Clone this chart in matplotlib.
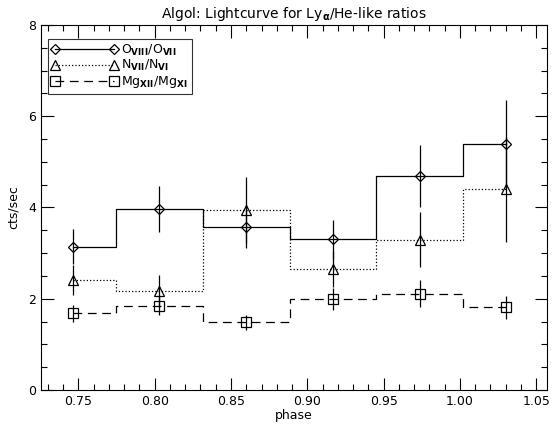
import matplotlib
matplotlib.use('Agg')
import matplotlib.pyplot as plt
from matplotlib.ticker import MultipleLocator

# phase bin centres
phase = [0.7463, 0.8031, 0.8600, 0.9168, 0.9736, 1.0305]

# O VIII / O VII
o_ratio = [3.14, 3.97, 3.58, 3.30, 4.68, 5.39]
o_err = [0.38, 0.50, 0.47, 0.43, 0.68, 0.97]

# N VII / N VI
n_ratio = [2.41, 2.17, 3.95, 2.65, 3.29, 4.40]
n_err = [0.33, 0.35, 0.72, 0.40, 0.60, 1.15]

# Mg XII / Mg XI
mg_ratio = [1.68, 1.85, 1.48, 1.99, 2.11, 1.81]
mg_err = [0.18, 0.20, 0.17, 0.24, 0.29, 0.26]

plt.rcParams['font.family'] = 'DejaVu Sans'
plt.rcParams['font.size'] = 9

fig = plt.figure(figsize=(5.52, 4.30), dpi=100)
ax = fig.add_axes([0.0743, 0.093, 0.917, 0.849])

series = [
    (o_ratio, o_err, 'D', 5.5, '-', r'O$_{\mathbf{VIII}}$/O$_{\mathbf{VII}}$'),
    (n_ratio, n_err, '^', 6.5, ':', r'N$_{\mathbf{VII}}$/N$_{\mathbf{VI}}$'),
    (mg_ratio, mg_err, 's', 6.5, (0, (7, 4.5)), r'Mg$_{\mathbf{XII}}$/Mg$_{\mathbf{XI}}$'),
]

for vals, err, mk, size, ls, lab in series:
    ax.plot(phase, vals, drawstyle='steps-mid', color='black', lw=0.9, ls=ls)
    ax.errorbar(phase, vals, yerr=err, fmt='none', ecolor='black', elinewidth=0.9, capsize=0)
    ax.plot(phase, vals, ls='none', marker=mk, ms=size, mfc='none', mec='black', mew=0.9)
    # legend proxy
    ax.plot([], [], color='black', lw=0.9, ls=ls, marker=mk, ms=size,
            mfc='none', mec='black', mew=0.9, label=lab)

ax.set_xlim(0.7255, 1.0572)
ax.set_ylim(0, 8)
ax.xaxis.set_major_locator(MultipleLocator(0.05))
ax.xaxis.set_minor_locator(MultipleLocator(0.01))
ax.yaxis.set_major_locator(MultipleLocator(2))
ax.yaxis.set_minor_locator(MultipleLocator(0.5))
ax.tick_params(which='both', direction='in', top=True, right=True, width=0.8)
ax.tick_params(which='major', length=9)
ax.tick_params(which='minor', length=4.5)
ax.set_xticks([0.75, 0.80, 0.85, 0.90, 0.95, 1.00, 1.05])
ax.set_xticklabels(['0.75', '0.80', '0.85', '0.90', '0.95', '1.00', '1.05'])
for s in ax.spines.values():
    s.set_linewidth(0.8)

ax.set_xlabel('phase', labelpad=1)
ax.set_ylabel('cts/sec', labelpad=6)
ax.set_title(r'Algol: Lightcurve for Ly$_{\mathbf{\alpha}}$/He-like ratios', fontsize=10, pad=5)

leg = ax.legend(loc='upper left', bbox_to_anchor=(0.013, 0.962), numpoints=2,
                handlelength=5.3, handletextpad=0.3, labelspacing=0.05,
                borderpad=0.3, borderaxespad=0, fancybox=False, fontsize=9)
leg.get_frame().set_edgecolor('black')
leg.get_frame().set_linewidth(0.8)

fig.savefig('out.png', dpi=100)
